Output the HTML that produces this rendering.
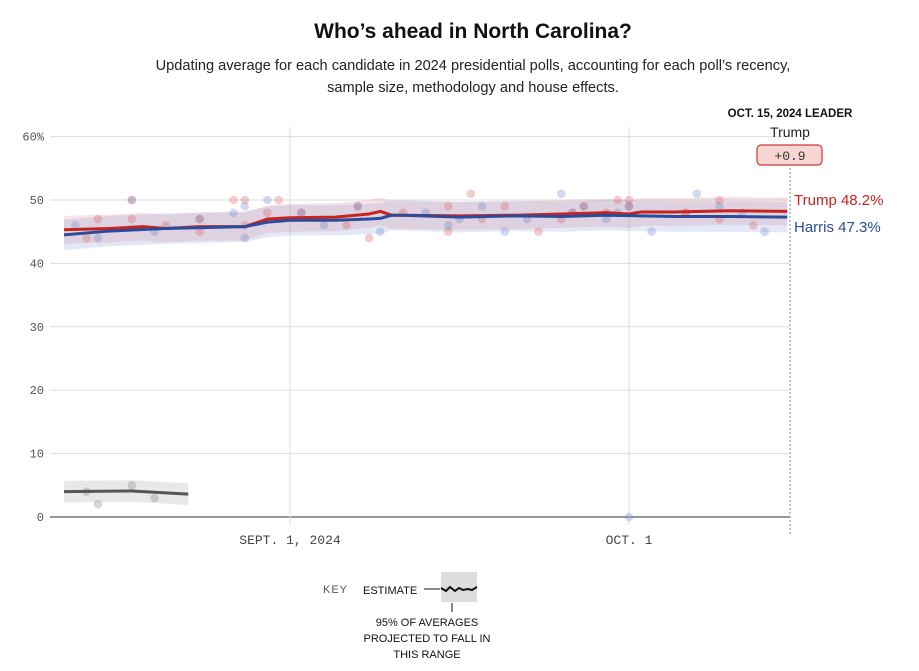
<!DOCTYPE html>
<html><head><meta charset="utf-8"><style>
body{margin:0;background:#fff;width:919px;height:671px;overflow:hidden;font-family:"Liberation Sans",sans-serif}
svg{position:absolute;left:0;top:0}
</style></head><body>
<svg width="919" height="671" id="c">
<text x="473" y="38" text-anchor="middle" font-size="21" font-weight="bold" fill="#111">Who’s ahead in North Carolina?</text>
<text x="473" y="70" text-anchor="middle" font-size="14.6" fill="#222">Updating average for each candidate in 2024 presidential polls, accounting for each poll’s recency,</text>
<text x="473" y="92" text-anchor="middle" font-size="14.6" fill="#222">sample size, methodology and house effects.</text>
<g id="grid"></g><g id="bands"></g><g id="dots"></g><g id="lines"></g>
<line x1="790" y1="160" x2="790" y2="535" stroke="#888" stroke-dasharray="2,2"/>
<text x="790" y="117" text-anchor="middle" font-size="11.5" font-weight="bold" fill="#111">OCT. 15, 2024 LEADER</text>
<text x="790" y="137" text-anchor="middle" font-size="14" fill="#222">Trump</text>
<rect x="757" y="145" width="65" height="20" rx="4" fill="#f7d5d3" stroke="#c83a35" stroke-width="1.2"/>
<text x="790" y="160" text-anchor="middle" font-size="13" font-family="Liberation Mono,monospace" fill="#333">+0.9</text>
<text x="794" y="205" font-size="15" fill="#c8241f">Trump 48.2%</text>
<text x="794" y="232" font-size="15" fill="#2b4c9b">Harris 47.3%</text>
<g>
<text x="323" y="593" font-size="11" fill="#555" letter-spacing="1">KEY</text>
<text x="363" y="594" font-size="11" fill="#111">ESTIMATE</text>
<line x1="424" y1="589" x2="440" y2="589" stroke="#111"/>
<rect x="441" y="572" width="36" height="30" fill="#ddd"/>
<polyline points="441,588 446,591 450,587 455,591 459,588 463,590 468,589 472,590 477,587" fill="none" stroke="#111" stroke-width="2"/>
<line x1="452" y1="603" x2="452" y2="612" stroke="#111"/>
<text x="427" y="626" text-anchor="middle" font-size="11" fill="#111">95% OF AVERAGES</text>
<text x="427" y="642" text-anchor="middle" font-size="11" fill="#111">PROJECTED TO FALL IN</text>
<text x="427" y="658" text-anchor="middle" font-size="11" fill="#111">THIS RANGE</text>
</g>
</svg>
<script>
const yTicks=[0,10,20,30,40,50,60];
const xTickDays=[0,30];
const xTickLabels=["SEPT. 1, 2024","OCT. 1"];
const trumpDays=[-20,-16,-13,-11,-8,-4,-2,0,4,7,8,9,10,15,20,24,28,30,31,34,39,44];
const trumpVals=[45.3,45.5,45.8,45.5,45.8,45.8,47.0,47.2,47.3,47.8,48.2,47.6,47.6,47.5,47.6,47.8,48.0,47.8,48.1,48.1,48.3,48.2];
const harrisDays=[-20,-16,-11,-4,-2,0,4,7,8,9,10,15,20,24,28,31,34,39,44];
const harrisVals=[44.5,45.1,45.5,45.8,46.5,46.8,46.8,47.0,47.1,47.6,47.6,47.3,47.5,47.4,47.6,47.5,47.4,47.4,47.3];
const otherDays=[-20,-14,-9];
const otherVals=[4.0,4.1,3.6];
const trumpPollDays=[-18,-17,-14,-14,-11,-8,-8,-5,-4,-4,-2,-1,1,5,6,7,10,14,14,16,17,19,22,24,25,26,28,29,30,30,35,35,38,38,41];
const trumpPollVals=[44,47,50,47,46,47,45,50,50,46,48,50,48,46,49,44,48,45,49,51,47,49,45,47,48,49,48,50,49,50,48,48,50,47,46];
const harrisPollDays=[-19,-17,-14,-12,-8,-5,-4,-4,-2,1,3,6,8,12,14,15,17,19,21,24,25,26,28,29,30,30,32,36,38,40,42];
const harrisPollVals=[46,44,50,45,47,48,49,44,50,48,46,49,45,48,46,47,49,45,47,51,48,49,47,48,49,0,45,51,49,48,45];
const otherPollDays=[-18,-17,-14,-12];
const otherPollVals=[4,2,5,3];
const X=d=>290+d*11.3, Y=v=>517-v*6.34;
const NS="http://www.w3.org/2000/svg";
function mk(p,t,a){const e=document.createElementNS(NS,t);for(const k in a)e.setAttribute(k,a[k]);document.getElementById(p).appendChild(e);return e;}
yTicks.forEach(v=>{
 const l=mk('grid','line',{x1:50,x2:790,y1:Y(v),y2:Y(v),stroke:v?'#ddd':'#777','stroke-width':v?1:1.5});
 
 
 const t=mk('grid','text',{x:44,y:Y(v)+4,'text-anchor':'end','font-size':12,fill:'#555','font-family':'Liberation Mono,monospace'});
 t.textContent=v+(v==60?'%':'');
 
 
});
xTickDays.forEach((d,i)=>{
 const l=mk('grid','line',{x1:X(d),x2:X(d),y1:127,y2:525,stroke:'#ddd'});
 
 
 const t=mk('grid','text',{x:X(d),y:544,'text-anchor':'middle','font-size':13,fill:'#444','font-family':'Liberation Mono,monospace'});
 t.textContent=xTickLabels[i];
 
 
});
function band(days,vals,w,fill,name){
 const top=days.map((d,i)=>X(d)+','+Y(vals[i]+w)).join(' ');
 const bot=days.map((d,i)=>X(d)+','+Y(vals[i]-w)).reverse().join(' ');
 const p=mk('bands','polygon',{points:top+' '+bot,fill:fill});
 
 
}
band(trumpDays,trumpVals,2.2,'rgba(220,120,120,0.2)','trump-interval');
band(harrisDays,harrisVals,2.4,'rgba(120,140,210,0.2)','harris-interval');
band(otherDays,otherVals,1.7,'rgba(150,150,150,0.22)','other-interval');
function dots(days,vals,fill,name){days.forEach((d,i)=>{
 const c=mk('dots','circle',{cx:X(d),cy:Y(vals[i]),r:4.3,fill:fill});
 
 
});}
dots(trumpPollDays,trumpPollVals,'rgba(220,110,110,0.35)','trump-poll-dot');
dots(harrisPollDays,harrisPollVals,'rgba(110,130,200,0.3)','harris-poll-dot');
dots(otherPollDays,otherPollVals,'rgba(140,140,140,0.35)','other-poll-dot');
function line(days,vals,col,name){
 const p=mk('lines','polyline',{points:days.map((d,i)=>X(d)+','+Y(vals[i])).join(' '),fill:'none',stroke:col,'stroke-width':3,'stroke-linejoin':'round'});
 
 
}
line(otherDays,otherVals,'#555','other-average-line');
line(trumpDays,trumpVals,'#c8241f','trump-average-line');
line(harrisDays,harrisVals,'#2b4c9b','harris-average-line');
</script>
</body></html>
